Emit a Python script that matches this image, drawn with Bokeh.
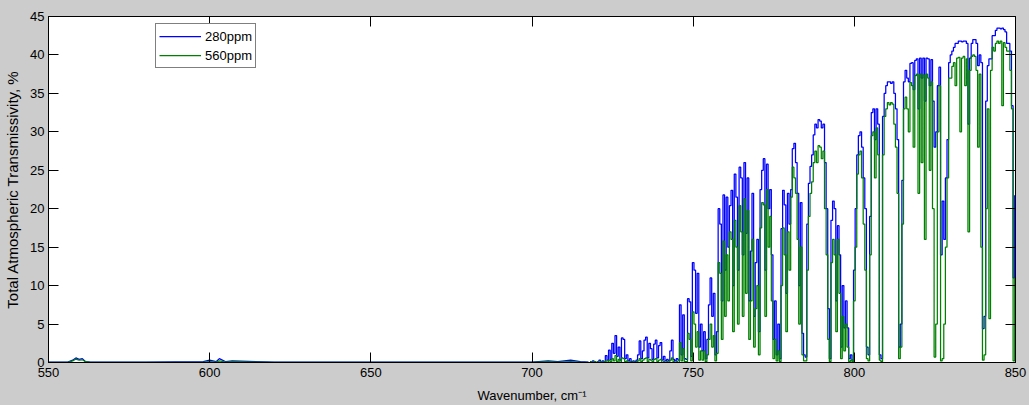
from bokeh.plotting import figure
from bokeh.models import (Range1d, FixedTicker, LinearAxis, Legend, LegendItem,
                          CustomJSTickFormatter)
from bokeh.embed import file_html
from bokeh.resources import INLINE

# ---------------- data ----------------
# sparse points over the nearly opaque part of the band (cm^-1)
wn_low = [550, 556, 557.5, 558.5, 559.5, 560.5, 561.5, 563, 580, 598, 600, 602,
          603, 605, 607, 620, 640, 700, 705, 708, 712, 715, 717.5]
t280_low = [0.05, 0.05, 0.3, 0.6, 0.4, 0.5, 0.1, 0.05, 0.05, 0.1, 0.3, 0.1,
            0.5, 0.1, 0.2, 0.05, 0.05, 0.05, 0.2, 0.1, 0.3, 0.1, 0.05]
t560_low = [0.02, 0.02, 0.2, 0.45, 0.3, 0.35, 0.1, 0.02, 0.02, 0.05, 0.1, 0.05,
            0.2, 0.05, 0.1, 0.02, 0.02, 0.02, 0.1, 0.05, 0.1, 0.05, 0.02]

# spectrum sampled every 0.5 cm^-1 starting at 718 cm^-1
wn_start = 718.0
wn_step = 0.5
t280 = [
    0.1, 0.0, 0.2, 0.1, 0.0, 0.1, 0.3, 0.0, 0.2, 0.1,          # 718
    0.9, 0.3, 1.6, 0.4, 2.5, 1.2, 3.5, 0.8, 2.0, 0.3,          # 723
    3.2, 3.0, 0.5, 1.0, 0.2, 0.5, 0.1, 0.2, 0.1, 0.3,          # 728
    1.0, 2.8, 0.5, 1.5, 2.9, 3.3, 0.6, 2.5, 1.8, 0.4,          # 733
    2.4, 2.9, 0.6, 2.2, 2.6, 0.3, 0.8, 0.2, 0.4, 0.2,          # 738
    1.5, 2.9, 0.4, 0.2, 0.5, 0.3, 7.5, 1.0, 6.2, 0.5,          # 743
    0.4, 8.3, 7.9, 0.8, 13.0, 12.0, 6.4, 11.6, 2.0, 5.0,       # 748
    1.5, 4.0, 0.5, 3.0, 7.5, 11.0, 6.0, 9.0, 1.0, 4.0,         # 753
    20.0, 18.0, 8.0, 21.8, 12.0, 21.5, 15.0, 20.4, 22.4, 10.0, # 758
    24.5, 21.5, 12.0, 25.4, 24.0, 14.0, 26.0, 16.8, 24.0, 8.0, # 763
    14.5, 22.0, 6.0, 13.0, 16.0, 4.0, 22.5, 25.0, 26.5, 12.0,  # 768
    25.8, 20.0, 22.5, 14.0, 3.0, 8.0, 1.0, 5.0, 0.5, 17.4,     # 773
    22.4, 20.5, 9.0, 22.0, 18.0, 22.5, 27.8, 28.5, 26.0, 22.0, # 778
    10.0, 20.8, 3.8, 1.0, 0.7, 18.0, 23.3, 25.5, 27.0, 29.6,   # 783
    31.0, 30.5, 31.6, 31.4, 30.5, 31.0, 26.0, 20.0, 7.0, 0.5,  # 788
    18.5, 21.0, 20.0, 8.0, 17.8, 14.0, 2.0, 10.0, 4.5, 8.0,    # 793
    4.5, 0.5, 1.0, 0.3, 12.0, 20.0, 27.0, 29.5, 30.0, 28.0,    # 798
    24.0, 20.0, 2.0, 1.0, 19.0, 32.5, 33.0, 29.0, 33.0, 31.0,  # 803
    1.0, 0.5, 32.0, 35.0, 36.0, 36.5, 36.5, 36.3, 36.5, 35.0,  # 808
    33.0, 29.0, 2.0, 5.0, 23.7, 36.5, 38.0, 37.0, 36.5, 38.9,  # 813
    39.0, 35.5, 39.3, 39.5, 33.0, 39.6, 37.0, 39.6, 34.0, 39.6,# 818
    39.5, 36.0, 39.4, 34.0, 28.0, 30.0, 36.0, 38.4, 14.0, 21.0,# 823
    16.0, 24.0, 29.0, 39.0, 40.0, 40.5, 41.0, 41.5, 41.5, 41.8,# 828
    41.8, 41.7, 41.8, 41.8, 41.5, 31.0, 39.6, 41.5, 42.0, 42.0,# 833
    41.5, 38.6, 40.0, 39.0, 4.4, 6.0, 34.0, 38.6, 39.5, 39.5,  # 838
    42.5, 42.5, 43.2, 43.5, 43.5, 43.4, 43.5, 43.3, 43.0, 41.5,# 843
    41.5, 40.5, 33.4, 11.0, 21.7,                              # 848
]
t560 = [
    0.0, 0.1, 0.0, 0.1, 0.0, 0.1, 0.0, 0.1, 0.0, 0.1,          # 718
    0.2, 0.0, 0.3, 0.1, 0.5, 0.2, 0.9, 0.1, 0.4, 0.0,          # 723
    0.6, 0.5, 0.1, 0.2, 0.0, 0.1, 0.0, 0.1, 0.0, 0.1,          # 728
    0.2, 0.5, 0.1, 0.3, 0.5, 0.6, 0.1, 0.4, 0.3, 0.1,          # 733
    0.4, 0.5, 0.1, 0.3, 0.4, 0.0, 0.1, 0.0, 0.1, 0.0,          # 738
    0.3, 0.6, 0.1, 0.0, 0.1, 0.0, 2.6, 0.2, 1.8, 0.1,          # 743
    0.1, 3.8, 3.0, 0.2, 6.6, 5.0, 2.0, 4.0, 0.3, 1.5,          # 748
    0.3, 1.5, 0.1, 1.0, 3.0, 5.0, 2.0, 3.5, 0.2, 1.2,          # 753
    13.0, 11.6, 3.0, 15.8, 6.0, 14.0, 8.0, 17.0, 16.0, 4.0,    # 758
    18.5, 15.0, 5.0, 20.4, 17.0, 6.0, 21.3, 9.0, 19.8, 3.0,    # 763
    8.0, 16.0, 2.0, 7.0, 10.0, 1.0, 17.5, 20.8, 20.5, 6.0,     # 768
    22.5, 15.0, 19.0, 8.0, 0.5, 3.0, 0.2, 1.5, 0.1, 10.0,      # 773
    17.5, 14.0, 4.0, 17.0, 12.0, 21.5, 25.4, 24.0, 22.0, 16.0, # 778
    5.0, 15.0, 1.0, 0.2, 0.2, 12.0, 19.0, 22.0, 23.5, 26.0,    # 783
    27.5, 26.0, 28.2, 28.0, 26.5, 27.5, 20.0, 14.0, 3.0, 0.1,  # 788
    13.0, 16.0, 14.0, 4.0, 16.0, 9.0, 0.5, 6.0, 1.5, 5.0,      # 793
    2.0, 0.1, 0.3, 0.1, 8.0, 15.0, 24.5, 27.0, 27.5, 24.0,     # 798
    18.0, 12.0, 0.5, 0.2, 14.0, 29.5, 30.0, 24.0, 30.5, 27.0,  # 803
    0.3, 0.1, 27.0, 32.0, 33.0, 33.8, 33.5, 33.8, 33.6, 31.0,  # 808
    28.0, 22.0, 0.5, 2.0, 18.0, 33.0, 34.5, 33.0, 30.0, 36.4,  # 813
    36.0, 28.0, 37.3, 37.5, 22.0, 37.5, 26.0, 37.4, 16.0, 37.5,# 818
    37.0, 25.0, 36.5, 20.0, 0.7, 5.0, 30.0, 36.0, 0.2, 0.5,    # 823
    5.0, 15.0, 24.0, 37.0, 37.0, 38.5, 39.0, 36.0, 39.6, 39.7, # 828
    30.0, 39.6, 39.8, 36.0, 39.5, 17.0, 38.0, 39.8, 40.0, 39.8,# 833
    38.0, 28.0, 37.5, 15.0, 0.3, 1.0, 20.0, 33.0, 5.7, 38.0,   # 838
    41.0, 40.5, 41.5, 41.8, 41.5, 41.8, 33.4, 41.6, 41.0, 40.5,# 843
    40.5, 38.0, 33.0, 0.2, 11.0,                               # 848
]

x_ticks = [550, 600, 650, 700, 750, 800, 850]
y_ticks = [0, 5, 10, 15, 20, 25, 30, 35, 40, 45]
series_names = ["280ppm", "560ppm"]

wn_dense = [wn_start + wn_step * i for i in range(len(t280))]

# ---------------- figure ----------------
FONT = "Liberation Sans"
BLUE = "#0000ff"
GREEN = "#008000"
LW = 1.25
p = figure(width=1029, height=405, output_backend="svg", toolbar_location=None,
           x_range=Range1d(550, 850), y_range=Range1d(0, 45),
           x_axis_location=None, y_axis_location=None,
           min_border_left=48, min_border_right=14, min_border_top=16,
           min_border_bottom=43)
p.background_fill_color = "white"
p.border_fill_color = "#cccccc"
p.outline_line_color = "black"
p.xgrid.visible = False
p.ygrid.visible = False

r1a = p.line(wn_low, t280_low, line_color=BLUE, line_width=LW)
r1 = p.step(wn_dense, t280, mode="center", line_color=BLUE, line_width=LW)
r2a = p.line(wn_low, t560_low, line_color=GREEN, line_width=LW)
r2 = p.step(wn_dense, t560, mode="center", line_color=GREEN, line_width=LW)

blank = CustomJSTickFormatter(code="return '';")


def style_axis(ax, ticks, show_labels):
    ax.ticker = FixedTicker(ticks=ticks)
    ax.axis_line_color = "black"
    ax.major_tick_line_color = "black"
    ax.major_tick_in = 10
    ax.major_tick_out = 0
    ax.minor_tick_line_color = None
    ax.major_label_text_font = FONT
    ax.major_label_text_font_size = "13px"
    ax.major_label_text_color = "black"
    ax.major_label_standoff = 5 if show_labels else 0
    if not show_labels:
        ax.formatter = blank
    ax.axis_label_text_font = FONT
    ax.axis_label_text_font_size = "13px"
    ax.axis_label_text_font_style = "normal"
    ax.axis_label_text_color = "black"


left = LinearAxis(axis_label="Total Atmospheric Transmissivity, %")
style_axis(left, y_ticks, True)
left.major_label_standoff = 4
left.axis_label_text_font_size = "15px"
left.axis_label_standoff = 6
bottom = LinearAxis(axis_label="Wavenumber, cm\u207b\u00b9")
style_axis(bottom, x_ticks, True)
bottom.axis_label_standoff = 8
right = LinearAxis()
style_axis(right, y_ticks, False)
top = LinearAxis()
style_axis(top, x_ticks, False)
p.add_layout(left, "left")
p.add_layout(bottom, "below")
p.add_layout(right, "right")
p.add_layout(top, "above")

legend = Legend(items=[LegendItem(label=series_names[0], renderers=[r1]),
                       LegendItem(label=series_names[1], renderers=[r2])],
                location=(107, 294))
legend.label_text_font = FONT
legend.label_text_font_size = "13px"
legend.label_text_color = "black"
legend.border_line_color = "black"
legend.border_line_width = 1
legend.background_fill_color = "white"
legend.background_fill_alpha = 1.0
legend.padding = 3
legend.spacing = 1
legend.glyph_width = 42
legend.glyph_height = 18
legend.label_height = 18
legend.label_standoff = 4
legend.margin = 0
p.add_layout(legend)

html = file_html(p, INLINE)
html = html.replace("<head>", "<head><style>html,body{margin:0;padding:0;background:#cccccc;}</style>", 1)
open("out.html", "w").write(html)
